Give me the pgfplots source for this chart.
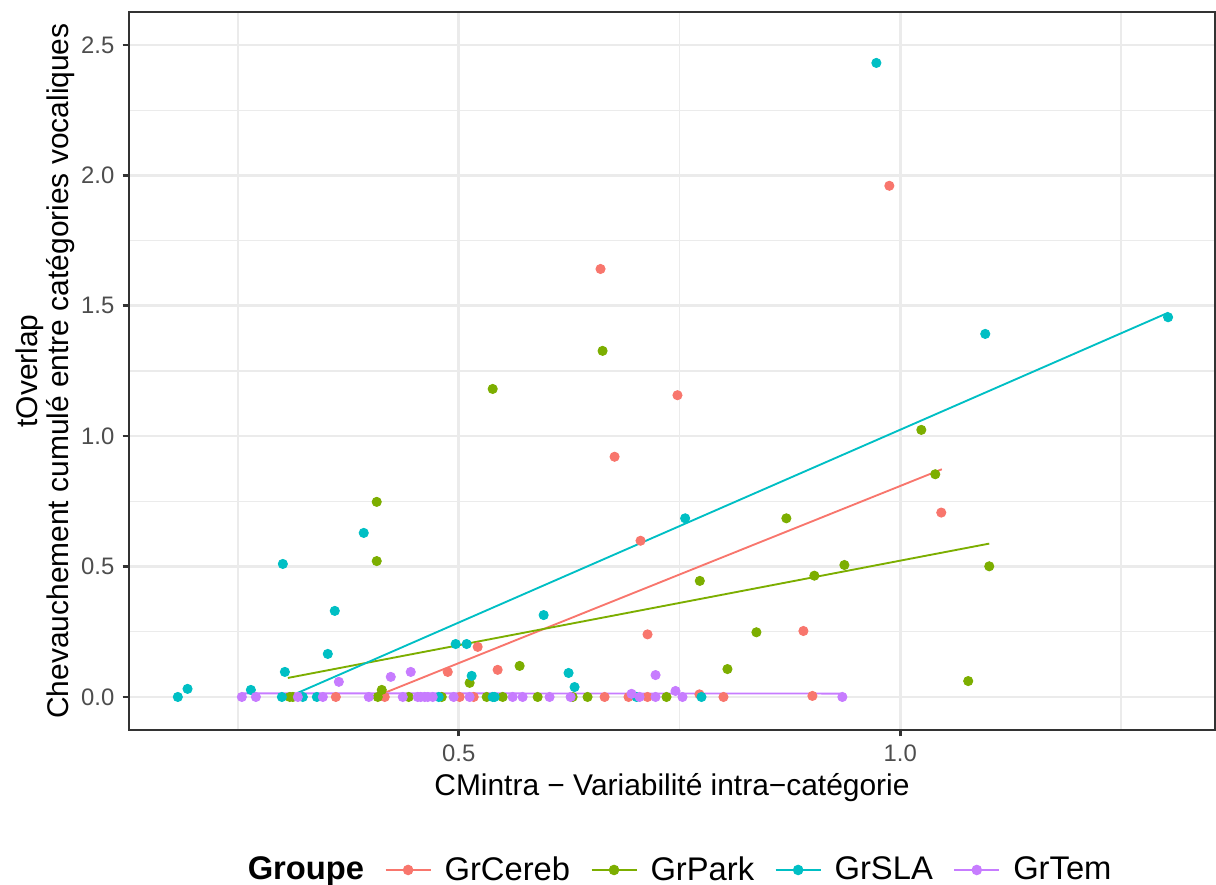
\documentclass[border=0pt]{standalone}
\usepackage{fontspec}
\setmainfont{Liberation Sans}
\usepackage{pgfplots}
\pgfplotsset{compat=1.18}
\definecolor{cCereb}{HTML}{F8766D}
\definecolor{cPark}{HTML}{7CAE00}
\definecolor{cSLA}{HTML}{00BFC4}
\definecolor{cTem}{HTML}{C77CFF}
\definecolor{gg92}{HTML}{EBEBEB}
\definecolor{gg20}{HTML}{333333}
\definecolor{gg30}{HTML}{4D4D4D}
\newcommand\ggkey[1]{\addlegendimage{legend image code/.code={\draw[#1,line width=0.8pt] (0pt,0pt) -- (19.2pt,0pt); \fill[#1] (9.6pt,0pt) circle (2.05pt);}}}
\begin{document}
\begin{tikzpicture}
\useasboundingbox (0,0) rectangle (520.1pt,378.5pt);
\begin{axis}[
  at={(55.17pt,66.29pt)}, anchor=south west,
  width=464.5pt, height=307.1pt, scale only axis,
  xmin=0.1267, xmax=1.3563, ymin=-0.1265, ymax=2.6265,
  xtick={0.5,1.0}, xticklabels={0.5,1.0},
  ytick={0,0.5,1,1.5,2,2.5}, yticklabels={0.0,0.5,1.0,1.5,2.0,2.5},
  minor xtick={0.25,0.75,1.25},
  minor ytick={0.25,0.75,1.25,1.75,2.25},
  grid=both,
  major grid style={color=gg92, line width=1.07pt},
  minor grid style={color=gg92, line width=0.53pt},
  tick pos=left, tick align=outside,
  major tick length=2.75pt, minor tick length=0pt,
  tick style={color=gg20, line width=1.07pt},
  axis line style={color=gg20, line width=1.07pt},
  ticklabel style={font=\fontsize{10.2}{12}\selectfont, color=gg30},
  every axis x label/.style={at={(axis description cs:0.5,0)}, anchor=base, yshift=-28.2pt, font=\fontsize{12.8}{15}\selectfont},
  every axis y label/.style={at={(axis description cs:-0.0769,0.5)}, rotate=90, anchor=center, align=center, font=\fontsize{12.8}{10.2}\selectfont},
  xlabel={CMintra − Variabilité intra−catégorie},
  ylabel={tOverlap\\Chevauchement cumulé entre catégories vocaliques},
  legend style={at={(axis description cs:0.5010,-0.195)}, anchor=center, draw=none, fill=none,
    font=\fontsize{14}{16}\selectfont, nodes={inner sep=0pt},
    /tikz/every odd column/.append style={column sep=5.6pt},
    /tikz/every even column/.append style={column sep=8.8pt}},
  legend columns=5,
]
% regression lines
\addplot[cCereb, line width=0.8pt, forget plot] coordinates {(0.4163,0.016) (1.0470,0.873)};
\addplot[cPark, line width=0.8pt, forget plot] coordinates {(0.3066,0.073) (1.1007,0.588)};
\addplot[cSLA, line width=0.8pt, forget plot] coordinates {(0.3179,0.016) (1.3035,1.4736)};
\addplot[cTem, line width=0.8pt, forget plot] coordinates {(0.2545,0.014) (0.9344,0.013)};
% points
\addplot[only marks, mark=*, mark size=1.95pt, cCereb, mark options={draw=none, fill=cCereb}, forget plot] coordinates {
(0.3609,0) (0.4163,0) (0.4876,0.096) (0.5011,0) (0.5170,0) (0.5215,0.192) (0.5441,0.104)
(0.6652,0) (0.6606,1.641) (0.6765,0.921) (0.6923,0) (0.7059,0.599) (0.7138,0.240) (0.7138,0)
(0.7477,1.157) (0.7726,0.010) (0.7998,0) (0.8903,0.253) (0.9005,0.004) (0.9876,1.960) (1.0464,0.707)
};
\addplot[only marks, mark=*, mark size=1.95pt, cPark, mark options={draw=none, fill=cPark}, forget plot] coordinates {
(0.3088,0) (0.3122,0) (0.4072,0.748) (0.4072,0.521) (0.4084,0) (0.4129,0.027) (0.4434,0)
(0.4808,0) (0.5124,0.054) (0.5317,0) (0.5385,1.181) (0.5498,0) (0.5690,0.119) (0.5894,0)
(0.6290,0) (0.6459,0) (0.6629,1.327) (0.7353,0) (0.7730,0.445) (0.8043,0.107) (0.8371,0.248)
(0.8710,0.685) (0.9027,0.465) (0.9367,0.506) (1.0238,1.024) (1.0396,0.854) (1.0769,0.061) (1.1007,0.501)
};
\addplot[only marks, mark=*, mark size=1.95pt, cSLA, mark options={draw=none, fill=cSLA}, forget plot] coordinates {
(0.182,0) (0.193,0.031) (0.2647,0.027) (0.2998,0) (0.3009,0.510) (0.3032,0.096) (0.3235,0)
(0.3394,0) (0.3518,0.165) (0.3597,0.330) (0.3925,0.629) (0.4774,0) (0.4966,0.203) (0.5090,0.203)
(0.5147,0.081) (0.5385,0) (0.5407,0) (0.5962,0.314) (0.6244,0.092) (0.6312,0.038) (0.7014,0)
(0.7564,0.685) (0.7749,0) (0.9729,2.431) (1.0962,1.392) (1.3032,1.456)
};
\addplot[only marks, mark=*, mark size=1.95pt, cTem, mark options={draw=none, fill=cTem}, forget plot] coordinates {
(0.2545,0) (0.2704,0) (0.3179,0) (0.3462,0) (0.3643,0.058) (0.3982,0) (0.4231,0.077) (0.4367,0)
(0.4457,0.096) (0.4536,0) (0.4570,0) (0.4615,0) (0.4650,0) (0.4706,0) (0.4943,0) (0.5124,0)
(0.5611,0) (0.5724,0) (0.6029,0) (0.6267,0) (0.6957,0.012) (0.7048,0) (0.7229,0.084) (0.7229,0)
(0.7455,0.023) (0.7534,0) (0.9344,0)
};
% legend
\addlegendimage{empty legend}
\addlegendentry{\textbf{Groupe}}
\ggkey{cCereb}
\addlegendentry{GrCereb}
\ggkey{cPark}
\addlegendentry{GrPark}
\ggkey{cSLA}
\addlegendentry{GrSLA}
\ggkey{cTem}
\addlegendentry{GrTem}
\end{axis}
\end{tikzpicture}
\end{document}
